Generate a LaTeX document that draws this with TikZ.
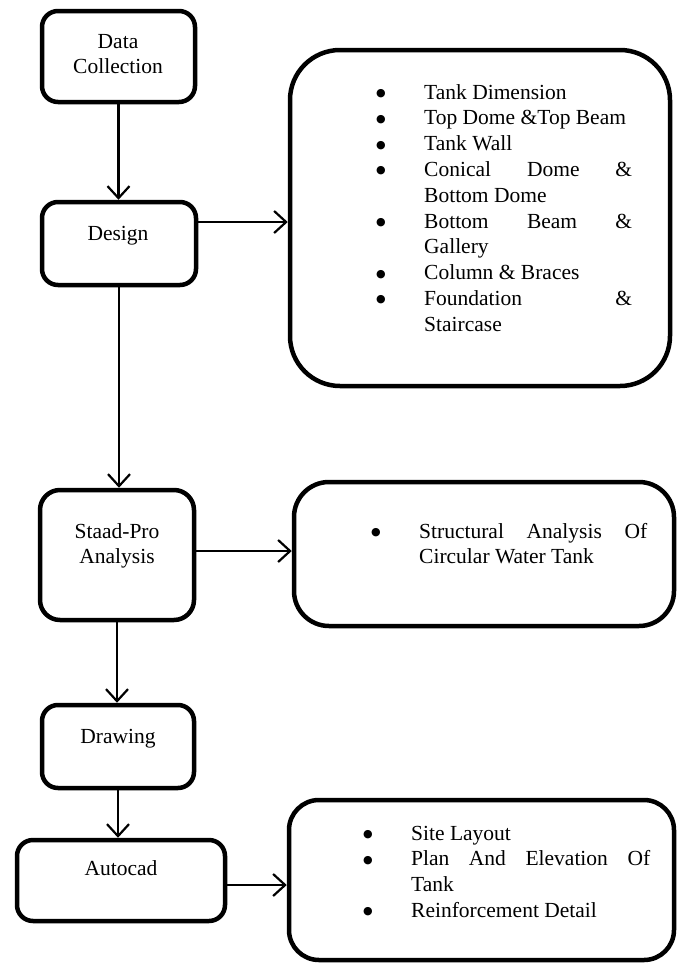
\documentclass[tikz,border=0pt]{standalone}
\usepackage{fontspec}
\setmainfont{Liberation Serif}
\newfontfamily\symfont{DejaVu Sans}
\usetikzlibrary{arrows.meta}
\newcommand{\bul}{\raisebox{2.6pt}{\symfont\fontsize{11}{11}\selectfont ●}}
\begin{document}
\begin{tikzpicture}[x=1pt,y=-1pt,
  box/.style={draw, line width=4.5pt, rounded corners=#1, inner sep=0pt},
  box/.default=16pt,
  arr/.style={line width=2.2pt, -{Straight Barb[length=12pt,width=22pt]}},
  txt/.style={anchor=base, inner sep=0pt, font=\fontsize{21.5}{25}\selectfont},
  list/.style={anchor=base west, inner sep=0pt, font=\fontsize{21.5}{25.8}\selectfont}]
\useasboundingbox (0,0) rectangle (680,964);

% left column boxes
\node[box, minimum width=153pt, minimum height=91pt] (dc) at (118.5,56.5) {};
\node[box, minimum width=154pt, minimum height=83pt] (design) at (119,243.5) {};
\node[box=20pt, minimum width=154pt, minimum height=130pt] (staad) at (117,555) {};
\node[box, minimum width=152pt, minimum height=83pt] (drawing) at (118,746.5) {};
\node[box, minimum width=208pt, minimum height=81pt] (autocad) at (121,880.5) {};

% right boxes
\node[box=50pt, minimum width=380pt, minimum height=336pt] (b1) at (480,218) {};
\node[box=35pt, minimum width=380pt, minimum height=144pt] (b2) at (484,554) {};
\node[box=30pt, minimum width=385pt, minimum height=160pt] (b3) at (481.5,880) {};

% left texts
\node[txt] (dct) at (118,48) {\begin{tabular}[t]{@{}c@{}}Data\\Collection\end{tabular}};
\node[txt] (dest) at (118,240) {Design};
\node[txt] (staadt) at (117,538) {\begin{tabular}[t]{@{}c@{}}Staad-Pro\\Analysis\end{tabular}};
\node[txt] (drawt) at (118,743) {Drawing};
\node[txt] (autot) at (121,875) {Autocad};

% lists
\node[list] (l1) at (376,99) {\begin{tabular}[t]{@{}p{48pt}@{}p{208pt}@{}}
\bul & Tank Dimension\\
\bul & Top Dome \&Top Beam\\
\bul & Tank Wall\\
\bul & \makebox[\linewidth][s]{Conical Dome \&}\\
 & Bottom Dome\\
\bul & \makebox[\linewidth][s]{Bottom Beam \&}\\
 & Gallery\\
\bul & Column \& Braces\\
\bul & \makebox[\linewidth][s]{Foundation \&}\\
 & Staircase
\end{tabular}};

\node[list] (l2) at (371,538) {\begin{tabular}[t]{@{}p{48pt}@{}p{228pt}@{}}
\bul & \makebox[\linewidth][s]{Structural Analysis Of}\\
 & Circular Water Tank
\end{tabular}};

\node[list] (l3) at (363,840) {\begin{tabular}[t]{@{}p{48pt}@{}p{239pt}@{}}
\bul & Site Layout\\
\bul & \makebox[\linewidth][s]{Plan And Elevation Of}\\
 & Tank\\
\bul & Reinforcement Detail
\end{tabular}};

% vertical arrows
\draw[arr] (dc.south) -- (dc.south |- design.north);
\draw[arr] (design.south) -- (design.south |- staad.north);
\draw[arr] (staad.south) -- (staad.south |- drawing.north);
\draw[arr] (drawing.south) -- (drawing.south |- autocad.north);

% horizontal arrows
\draw[arr] ([yshift=21.5pt]design.east) -- ([yshift=21.5pt]design.east -| b1.west);
\draw[arr] ([yshift=4pt]staad.east) -- ([yshift=4pt]staad.east -| b2.west);
\draw[arr] ([yshift=-4.5pt]autocad.east) -- ([yshift=-4.5pt]autocad.east -| b3.west);
\end{tikzpicture}
\end{document}
